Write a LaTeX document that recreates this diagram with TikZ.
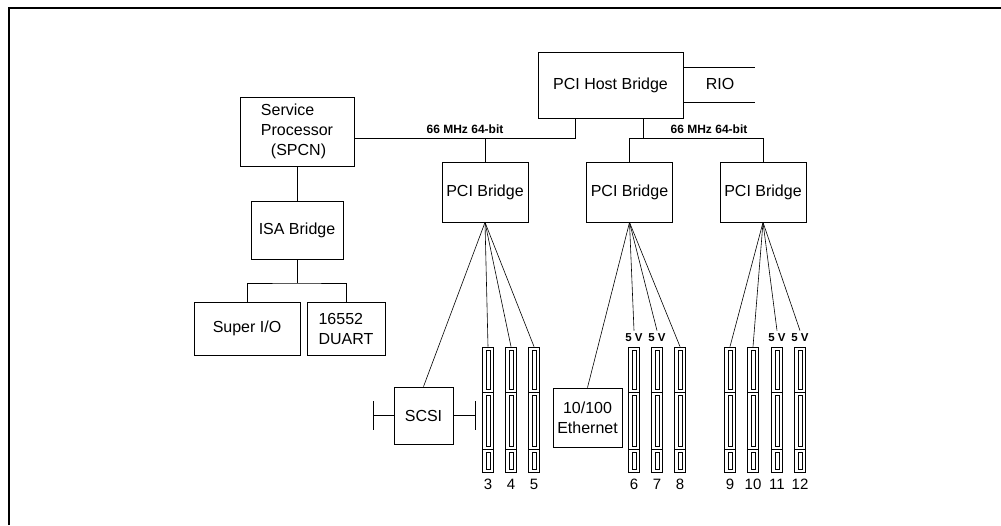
\documentclass[tikz,border=0pt]{standalone}
\usepackage{fontspec}
\setmainfont{Liberation Sans}
\usetikzlibrary{positioning}

\begin{document}
\begin{tikzpicture}[x=1pt,y=1pt,line width=0.8pt,
    box/.style={draw, align=center, inner sep=0pt, font=\fontsize{16}{20}\selectfont},
    slot/.style={draw, minimum width=11pt, minimum height=125pt, inner sep=0pt},
    num/.style={font=\fontsize{15}{18}\selectfont, inner sep=0pt},
    volt/.style={font=\bfseries\fontsize{11.5}{14}\selectfont, inner sep=0pt, outer sep=3pt},
    bus/.style={font=\bfseries\fontsize{12}{14}\selectfont, inner sep=0pt}]
        \useasboundingbox (0,0) rectangle (1001,525);
        \draw[line width=2pt] (9,0) -- (9,517) -- (1001,517);

        % host side
        \node[box, minimum width=145pt, minimum height=66pt] (host) at (610.5,440) {PCI Host Bridge};
        \node[font=\fontsize{16}{20}\selectfont, inner sep=0pt] (rio) at (720,441) {RIO};
        \coordinate (rioa) at (755,458);
        \coordinate (riob) at (755,423);
        \draw (host.east |- rioa) -- (rioa);
        \draw (host.east |- riob) -- (riob);

        \node[box, minimum width=114pt, minimum height=69pt, align=left] (sp) at (297,393.5) {Service\\Processor\\\hspace*{10pt}(SPCN)};
        \node[box, minimum width=86pt, minimum height=60pt] (pb1) at (485,333) {PCI Bridge};
        \node[box, minimum width=86pt, minimum height=60pt] (pb2) at (629.5,333) {PCI Bridge};
        \node[box, minimum width=86pt, minimum height=60pt] (pb3) at (763,333) {PCI Bridge};

        % buses
        \coordinate (b1) at (575,387);
        \coordinate (b2) at (643,387);
        \node[bus] (bus1) at (465,396) {66 MHz 64-bit};
        \node[bus] (bus2) at (709,396) {66 MHz 64-bit};
        \draw (sp.east |- b1) -- (b1) -- (b1 |- host.south);
        \draw (pb1.north) -- (pb1.north |- b1);
        \draw (b2 |- host.south) -- (b2);
        \draw (pb2.north) |- (pb3.north |- b2) -- (pb3.north);

        % ISA side
        \node[box, minimum width=92pt, minimum height=58pt] (isa) at (297,295) {ISA Bridge};
        \node[box, minimum width=106pt, minimum height=53pt] (sio) at (247,196.5) {Super I/O};
        \node[box, minimum width=78pt, minimum height=53pt, align=left] (duart) at (346,196.5) {16552\\DUART};
        \coordinate (split) at (297,242);
        \draw (sp.south) -- (isa.north);
        \draw (isa.south) -- (split);
        \draw (sio.north) |- (split) -| (duart.north);

        % devices
        \node[box, minimum width=59pt, minimum height=57pt] (scsi) at (423.5,109.5) {SCSI};
        \node[box, minimum width=69pt, minimum height=59pt] (eth) at (587.5,107.5) {10/100\\Ethernet};
        \coordinate (tl) at (373,109.5);
        \coordinate (tr) at (475,109.5);
        \draw (scsi.west) -- (tl);
        \draw (scsi.east) -- (tr);
        \draw ([yshift=-14pt]tl) -- ([yshift=14pt]tl);
        \draw ([yshift=-14pt]tr) -- ([yshift=14pt]tr);

        \foreach \n/\x in {3/488, 4/511, 5/534, 6/634, 7/657, 8/680, 9/730, 10/753, 11/777, 12/800} {
            \node[slot] (s\n) at (\x,115.5) {};
            \node[num] (n\n) at (\x,41) {\n};
            \draw (\x-5.5,133) -- (\x+5.5,133) (\x-5.5,76) -- (\x+5.5,76);
            \draw (\x-2,175) rectangle (\x+2,136) (\x-2,130) rectangle (\x+2,79) (\x-2,73) rectangle (\x+2,56);
        }
        \foreach \n in {6, 7, 11, 12} {
            \node[volt, above=2pt of s\n] (v\n) {5 V};
        }

        \foreach \t in {scsi, s3, s4, s5} {
            \draw[line width=0.6pt] (pb1.south) -- (\t.north);
        }
        \foreach \t in {eth, v6, v7, s8} {
            \draw[line width=0.6pt] (pb2.south) -- (\t.north);
        }
        \foreach \t in {s9, s10, v11, v12} {
            \draw[line width=0.6pt] (pb3.south) -- (\t.north);
        }
    \end{tikzpicture}
\end{document}
